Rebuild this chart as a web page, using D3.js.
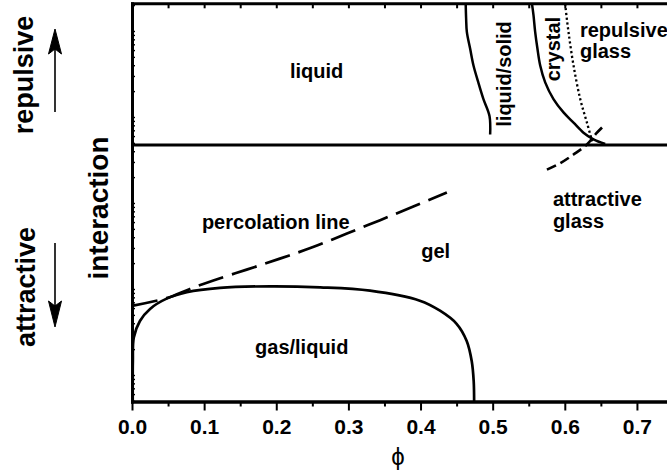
<!DOCTYPE html>
<html>
<head>
<meta charset="utf-8">
<script src="https://cdn.jsdelivr.net/npm/d3@7"></script>
<style>
  html, body { margin: 0; padding: 0; background: #fff; }
  svg { display: block; }
  text { font-family: "Liberation Sans", Arial, sans-serif; fill: #000; }
</style>
</head>
<body>
<svg id="chart" width="667" height="475"></svg>
<script>
// Volume fraction axis
const phiDomain = [0, 0.75];
const phiMajorTicks = [0.0, 0.1, 0.2, 0.3, 0.4, 0.5, 0.6, 0.7];
const phiMinorTicks = [0.05, 0.15, 0.25, 0.35, 0.45, 0.55, 0.65, 0.75];
const phiTopTicks = [0.05, 0.1, 0.15, 0.2, 0.25, 0.3, 0.35, 0.4, 0.45, 0.5, 0.55, 0.6, 0.65, 0.7, 0.75];

// Interaction axis (arbitrary units: > 0 repulsive, < 0 attractive)
const interactionDomain = [-1, 0.5524];
// Decades covered by the minor (log) ticks on the interaction axis
const interactionLogExponents = [-0.308, 4.322];

// Gas/liquid coexistence curve [phi, interaction]
const gasLiquid = [
  [0.001, -1.0], [0.001, -0.90], [0.0012, -0.84], [0.0025, -0.75], [0.011, -0.686],
  [0.025, -0.639], [0.048, -0.599], [0.076, -0.574], [0.122, -0.557],
  [0.191, -0.551], [0.261, -0.555], [0.330, -0.568], [0.399, -0.607],
  [0.427, -0.646], [0.450, -0.697], [0.464, -0.764], [0.471, -0.843],
  [0.4737, -0.921], [0.4743, -1.0]
];

// Percolation line
const percolation = [
  [0.0, -0.627], [0.048, -0.597], [0.0804, -0.561], [0.1128, -0.528],
  [0.159, -0.486], [0.205, -0.443], [0.251, -0.398], [0.298, -0.345],
  [0.344, -0.293], [0.390, -0.240], [0.4365, -0.185]
];

// Freezing line (liquid / liquid-solid boundary)
const freezing = [
  [0.4626, 0.552], [0.4632, 0.493], [0.4642, 0.441], [0.4688, 0.375],
  [0.4734, 0.310], [0.4799, 0.246], [0.4872, 0.179], [0.4956, 0.113],
  [0.4965, 0.041]
];

// Melting line (liquid-solid / crystal boundary)
const melting = [
  [0.5544, 0.552], [0.5566, 0.506], [0.5589, 0.441], [0.5621, 0.375],
  [0.5659, 0.310], [0.5728, 0.244], [0.5843, 0.179], [0.5982, 0.127],
  [0.6121, 0.087], [0.6259, 0.048], [0.6398, 0.022], [0.656, 0.004]
];

// Repulsive glass transition
const repulsiveGlass = [
  [0.6006, 0.552], [0.6012, 0.532], [0.6051, 0.441], [0.6121, 0.310],
  [0.6214, 0.179], [0.6307, 0.087], [0.638, 0.014]
];

// Attractive glass transition
const attractiveGlass = [
  [0.5752, -0.096], [0.5936, -0.071], [0.6121, -0.037], [0.6307, 0.002],
  [0.6436, 0.045], [0.6537, 0.074]
];

// Region labels [text, phi, interaction]
const regionLabels = [
  ["liquid", 0.219, 0.263],
  ["percolation line", 0.0969, -0.328],
  ["gel", 0.401, -0.440],
  ["gas/liquid", 0.1706, -0.815],
  ["repulsive", 0.621, 0.422],
  ["glass", 0.621, 0.338],
  ["attractive", 0.5835, -0.238],
  ["glass", 0.5835, -0.322]
];
// Vertical region labels [text, phi (baseline), interaction (centre)]
const verticalLabels = [
  ["liquid/solid", 0.5254, 0.277],
  ["crystal", 0.5934, 0.374]
];

const svg = d3.select("#chart");
const x = d3.scaleLinear().domain(phiDomain).range([132, 673]);
const y = d3.scaleLinear().domain(interactionDomain).range([401.5, 3.3]);
const yLog = d3.scaleLog()
  .domain(interactionLogExponents.map(e => Math.pow(10, e)))
  .range([401.5, 3.3]);

const line = d3.line()
  .x(d => x(d[0])).y(d => y(d[1]))
  .curve(d3.curveCatmullRom.alpha(0.5));

// Plot border / axes
function styleAxis(g, width) {
  g.selectAll(".domain").attr("stroke", "#000").attr("stroke-width", width).attr("stroke-linecap", "square");
  g.selectAll(".tick line").attr("stroke", "#000").attr("stroke-width", 2);
}

// bottom axis with labels
const gBottom = svg.append("g").attr("transform", `translate(0,${y(-1)})`)
  .call(d3.axisBottom(x).tickValues(phiMajorTicks).tickSize(9).tickSizeOuter(0)
    .tickPadding(9).tickFormat(d3.format(".1f")));
styleAxis(gBottom, 3);
gBottom.selectAll(".tick text")
  .attr("font-family", "Liberation Sans, Arial, sans-serif")
  .attr("font-size", 21).attr("font-weight", "bold").attr("fill", "#000");

const gBottomMinor = svg.append("g").attr("transform", `translate(0,${y(-1)})`)
  .call(d3.axisBottom(x).tickValues(phiMinorTicks).tickSize(5).tickSizeOuter(0).tickFormat(""));
styleAxis(gBottomMinor, 3);

// top border with inward ticks
const gTop = svg.append("g").attr("transform", `translate(0,${y(interactionDomain[1])})`)
  .call(d3.axisTop(x).tickValues(phiTopTicks).tickSize(-5).tickSizeOuter(0).tickFormat(""));
styleAxis(gTop, 3);

// left axis with inward log minor ticks
const gLeft = svg.append("g").attr("transform", `translate(${x(0)},0)`)
  .call(d3.axisLeft(yLog).ticks(20).tickSize(-3).tickSizeOuter(0).tickFormat(""));
styleAxis(gLeft, 3);
gLeft.selectAll(".tick line").attr("stroke-width", 1.4);

// hard-sphere reference line
svg.append("line")
  .attr("x1", x(phiDomain[0])).attr("x2", x(phiDomain[1]))
  .attr("y1", y(0)).attr("y2", y(0))
  .attr("stroke", "#000").attr("stroke-width", 2.8);

// Phase boundaries
const curves = [
  { data: gasLiquid, dash: null, w: 2.7 },
  { data: percolation, dash: "26,9", w: 2.7 },
  { data: freezing, dash: null, w: 2.5 },
  { data: melting, dash: null, w: 2.5 },
  { data: repulsiveGlass, dash: "2.2,2.6", w: 2.3 },
  { data: attractiveGlass, dash: "10,5", w: 2.7 }
];
curves.forEach(c => {
  svg.append("path")
    .attr("d", line(c.data))
    .attr("fill", "none")
    .attr("stroke", "#000")
    .attr("stroke-width", c.w)
    .attr("stroke-dasharray", c.dash);
});

// Region labels
svg.selectAll("text.region").data(regionLabels).enter().append("text")
  .attr("class", "region")
  .attr("x", d => x(d[1])).attr("y", d => y(d[2]))
  .attr("font-size", 20).attr("font-weight", "bold")
  .text(d => d[0]);

svg.selectAll("text.vregion").data(verticalLabels).enter().append("text")
  .attr("class", "vregion")
  .attr("transform", d => `translate(${x(d[1])},${y(d[2])}) rotate(-90)`)
  .attr("text-anchor", "middle")
  .attr("font-size", 20).attr("font-weight", "bold")
  .text(d => d[0]);

// Axis titles
svg.append("text")
  .attr("x", 398).attr("y", 465)
  .attr("text-anchor", "middle")
  .attr("font-family", "DejaVu Sans, Liberation Sans, sans-serif")
  .attr("font-size", 24)
  .text("ϕ");

svg.append("text")
  .attr("transform", "translate(108,208) rotate(-90)")
  .attr("text-anchor", "middle")
  .attr("font-size", 28).attr("font-weight", "bold")
  .text("interaction");

svg.append("text")
  .attr("transform", "translate(33,75) rotate(-90)")
  .attr("text-anchor", "middle")
  .attr("font-size", 27).attr("font-weight", "bold")
  .text("repulsive");

svg.append("text")
  .attr("transform", "translate(35,287) rotate(-90)")
  .attr("text-anchor", "middle")
  .attr("font-size", 27).attr("font-weight", "bold")
  .text("attractive");

// Direction arrows
const arrows = svg.append("g").attr("stroke", "#000").attr("fill", "#000");
arrows.append("line").attr("x1", 55).attr("x2", 55).attr("y1", 112).attr("y2", 45).attr("stroke-width", 1.6);
arrows.append("path").attr("d", "M55,29 L48.5,54 L55,49 L61.5,54 Z").attr("stroke-width", 1);
arrows.append("line").attr("x1", 55).attr("x2", 55).attr("y1", 243).attr("y2", 310).attr("stroke-width", 1.6);
arrows.append("path").attr("d", "M55,327 L48.5,301 L55,306 L61.5,301 Z").attr("stroke-width", 1);
</script>
</body>
</html>
